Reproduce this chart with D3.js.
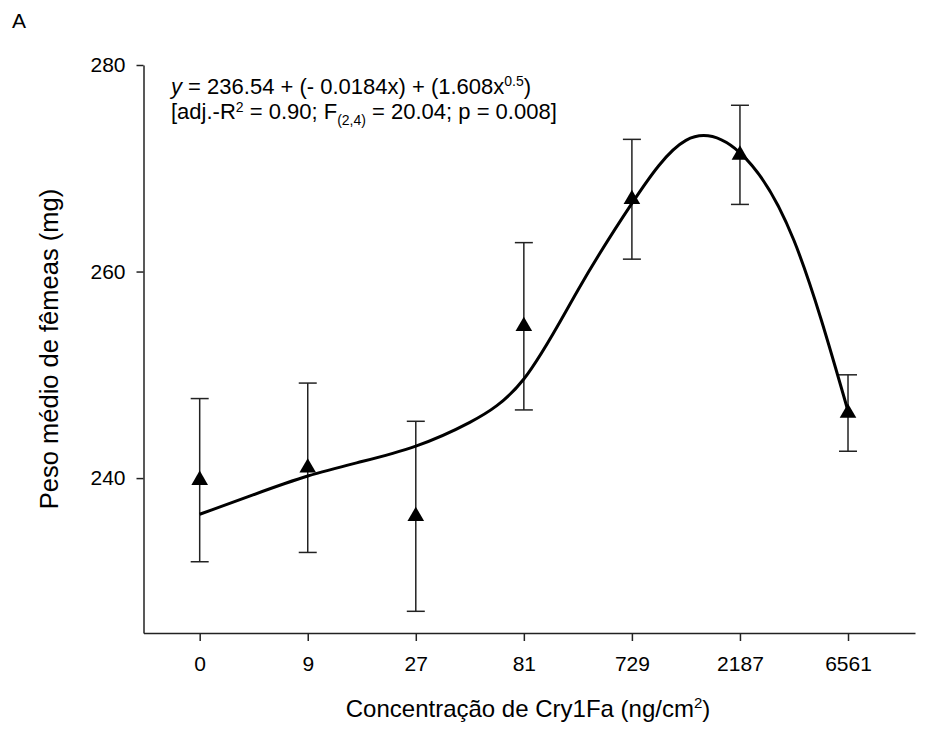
<!DOCTYPE html>
<html>
<head>
<meta charset="utf-8">
<script src="https://cdn.jsdelivr.net/npm/d3@7"></script>
<style>
    body { margin: 0; background: #fff; }
    text { font-family: "Liberation Sans", Arial, sans-serif; fill: #000; }
</style>
</head>
<body>
<svg id="chart" width="929" height="736"></svg>
<script>
// concentrations (categorical axis)
var concLabels = ["0", "9", "27", "81", "729", "2187", "6561"];
// mean female weight (mg) and standard error
var meanWeight = [239.8, 241.0, 236.3, 254.7, 267.0, 271.3, 246.3];
var stdErr = [7.9, 8.2, 9.2, 8.1, 5.8, 4.8, 3.7];
// fitted curve at half-category steps
var curvePos = [0, 0.5, 1, 1.5, 2, 2.5, 3, 3.5, 4, 4.5, 5, 5.5, 6];
var curveVal = [236.5, 238.4, 240.2, 241.6, 243.1, 245.4, 249.6, 258.2, 266.6, 272.7, 271.5, 263.0, 246.5];
var yTicks = [240, 260, 280];

var svg = d3.select("#chart");

var x = d3.scaleLinear()
    .domain([-0.52, 6.62])
    .range([143.5, 915]);

var y = d3.scaleLinear()
    .domain([225, 280])
    .range([633, 65]);

// axes
svg.append("g")
    .attr("transform", "translate(0," + y(225) + ")")
    .call(d3.axisBottom(x)
        .tickValues(d3.range(concLabels.length))
        .tickFormat(function(i) { return concLabels[i]; })
        .tickSize(8)
        .tickPadding(15)
        .tickSizeOuter(0));

svg.append("g")
    .attr("transform", "translate(" + x.range()[0] + ",0)")
    .call(d3.axisLeft(y)
        .tickValues(yTicks)
        .tickSize(7)
        .tickPadding(11)
        .tickSizeOuter(0));

svg.selectAll(".domain, .tick line")
    .attr("stroke", "#222")
    .attr("stroke-width", 1.5);

svg.selectAll(".tick text")
    .style("font-family", "'Liberation Sans', Arial, sans-serif")
    .style("font-size", "21px")
    .attr("fill", "#000");

// error bars
var bars = svg.append("g");
concLabels.forEach(function(c, i) {
    let cx = x(i),
        top = y(meanWeight[i] + stdErr[i]),
        bot = y(meanWeight[i] - stdErr[i]);
    bars.append("line")
        .attr("x1", cx).attr("x2", cx)
        .attr("y1", top).attr("y2", bot);
    bars.append("line")
        .attr("x1", cx - 9).attr("x2", cx + 9)
        .attr("y1", top).attr("y2", top);
    bars.append("line")
        .attr("x1", cx - 9).attr("x2", cx + 9)
        .attr("y1", bot).attr("y2", bot);
});
bars.selectAll("line")
    .attr("stroke", "#222")
    .attr("stroke-width", 1.5);

// fitted curve
var line = d3.line()
    .x(function(d) { return x(d[0]); })
    .y(function(d) { return y(d[1]); })
    .curve(d3.curveNatural);

svg.append("path")
    .datum(d3.zip(curvePos, curveVal))
    .attr("d", line)
    .attr("fill", "none")
    .attr("stroke", "#000")
    .attr("stroke-width", 3);

// markers
svg.append("g").selectAll("path")
    .data(meanWeight)
    .enter().append("path")
    .attr("d", d3.symbol().type(d3.symbolTriangle).size(120))
    .attr("transform", function(d, i) { return "translate(" + x(i) + "," + y(d) + ")"; })
    .attr("fill", "#000");

// axis titles
var xTitle = svg.append("text")
    .attr("x", 528)
    .attr("y", 717)
    .attr("text-anchor", "middle")
    .style("font-size", "24px");
xTitle.append("tspan").text("Concentração de Cry1Fa (ng/cm");
xTitle.append("tspan").attr("dy", -9).style("font-size", "15px").text("2");
xTitle.append("tspan").attr("dy", 9).text(")");

svg.append("text")
    .attr("transform", "translate(58," + (y(225) + y(280)) / 2 + ") rotate(-90)")
    .attr("text-anchor", "middle")
    .style("font-size", "25.5px")
    .text("Peso médio de fêmeas (mg)");

svg.append("text")
    .attr("x", 12)
    .attr("y", 28)
    .style("font-size", "21px")
    .text("A");

// regression equation
var eq1 = svg.append("text")
    .attr("x", 171)
    .attr("y", 94)
    .style("font-size", "22px");
eq1.append("tspan").style("font-style", "italic").text("y");
eq1.append("tspan").text(" = 236.54 + (- 0.0184x) + (1.608x");
eq1.append("tspan").attr("dy", -8).style("font-size", "14px").text("0.5");
eq1.append("tspan").attr("dy", 8).text(")");

var eq2 = svg.append("text")
    .attr("x", 171)
    .attr("y", 119)
    .style("font-size", "22px");
eq2.append("tspan").text("[adj.-R");
eq2.append("tspan").attr("dy", -7).style("font-size", "14px").text("2");
eq2.append("tspan").attr("dy", 7).text(" = 0.90; F");
eq2.append("tspan").attr("dy", 6).style("font-size", "14px").text("(2,4)");
eq2.append("tspan").attr("dy", -6).text(" = 20.04; p = 0.008]");
</script>
</body>
</html>
